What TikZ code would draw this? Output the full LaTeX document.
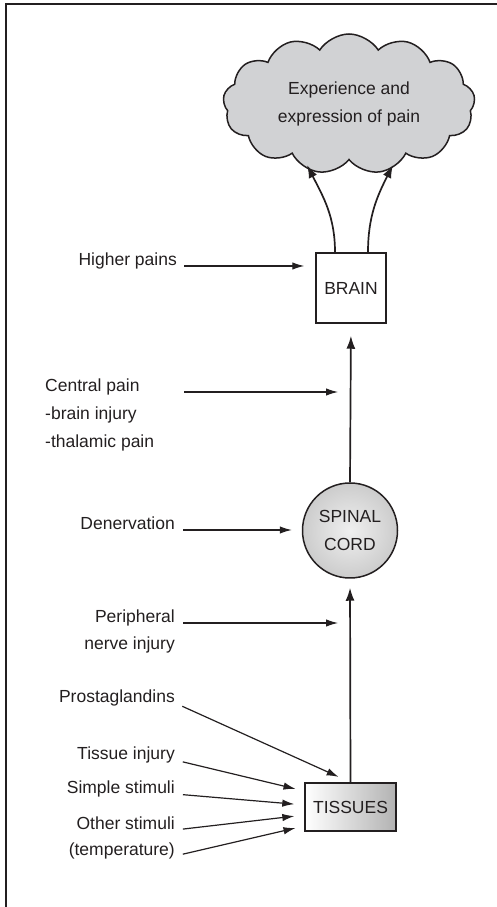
\documentclass[tikz,border=0pt]{standalone}
\usepackage{fontspec}
\setmainfont{Liberation Sans}
\usepackage{tikz}
\usetikzlibrary{arrows.meta,shapes.symbols,calc}
\definecolor{InkBlack}{RGB}{35,31,32}
\definecolor{CloudGray}{RGB}{209,210,212}

\begin{document}
\begin{tikzpicture}[x=1pt, y=1pt, >=Latex, color=InkBlack,
  font=\fontsize{17.5}{27.5}\selectfont,
  box/.style={draw=InkBlack, line width=1.5pt, inner sep=0pt, align=center},
  sig/.style={-{Latex[length=13pt,width=9pt]}, line width=1.7pt, shorten >=10pt},
  inp/.style={-{Latex[length=12pt,width=7.5pt]}, line width=1.2pt},
  lab/.style={anchor=base east, inner sep=0pt}]

  \useasboundingbox (0,0) rectangle (497,907);
  \draw[line width=2pt] (497,903) -- (6,903) -- (6,0);

  % main chain
  \node[cloud, cloud puffs=13, cloud puff arc=115, aspect=1.85, draw=InkBlack, line width=1.5pt,
        fill=CloudGray, minimum width=252pt, minimum height=140pt, align=center] (pain) at (349,803)
        {Experience and\\expression of pain};
  \node[box, minimum width=70pt, minimum height=70pt] (brain) at (351,619) {BRAIN};
  \node[box, circle, minimum size=95pt, inner color=gray!12, outer color=gray!40] (cord) at (350,376.5) {SPINAL\\CORD};
  \node[box, minimum width=91pt, minimum height=48pt, left color=white, right color=gray!60] (tissues) at (350.5,100) {TISSUES};

  \coordinate (cl) at (307,742);
  \coordinate (cr) at (393,742);
  \draw[sig, shorten >=0pt] ([xshift=-16pt]brain.north) to[out=90, in=-63] (cl);
  \draw[sig, shorten >=0pt] ([xshift=17pt]brain.north) to[out=90, in=-117] (cr);
  \draw[sig, shorten >=12pt] (cord.north) -- (brain.south);
  \draw[sig, shorten >=9pt] (tissues.north) -- (cord.south);

  % inputs on the left
  \node[lab] (higher) at (177,641) {Higher pains};
  \node[anchor=base west, inner sep=0pt, align=left] (central) at (45,515) {Central pain};
  \node[anchor=base west, inner sep=0pt] (centralb) at (45,487) {-brain injury};
  \node[anchor=base west, inner sep=0pt] (centralc) at (45,459) {-thalamic pain};
  \node[lab] (denerv) at (175,377) {Denervation};
  \node[lab] (periph) at (175,284) {Peripheral};
  \node[lab] (periphb) at (175,257) {nerve injury};
  \node[lab] (prosta) at (175,204) {Prostaglandins};
  \node[lab] (tinjury) at (175,147) {Tissue injury};
  \node[lab] (simple) at (175,113) {Simple stimuli};
  \node[lab] (other) at (175,77) {Other stimuli};
  \node[lab] (temp) at (175,51) {(temperature)};

  \draw[inp, shorten <=7pt, shorten >=11pt] (higher.base east) -- (higher.base east -| brain.west);
  \draw[inp, shorten >=12pt] ($(central.base east -| higher.base east)+(7,0)$) -- (central.base east -| cord.north);
  \draw[inp, shorten <=8pt, shorten >=10pt] (denerv.base east) -- (denerv.base east -| cord.west);
  \draw[inp, shorten <=8pt, shorten >=12pt] (periph.base east) -- (periph.base east -| cord.south);
  \draw[inp, shorten <=8pt, shorten >=13pt] (prosta.base east) -- (tissues.north);
  \draw[inp, shorten <=8pt, shorten >=9pt] (tinjury.base east) -- ([yshift=16pt]tissues.west);
  \draw[inp, shorten <=8pt, shorten >=10pt] (simple.base east) -- ([yshift=2pt]tissues.west);
  \draw[inp, shorten <=8pt, shorten >=10pt] (other.base east) -- ([yshift=-8pt]tissues.west);
  \draw[inp, shorten <=8pt, shorten >=9pt] (temp.base east) -- ([yshift=-19pt]tissues.west);
\end{tikzpicture}
\end{document}
